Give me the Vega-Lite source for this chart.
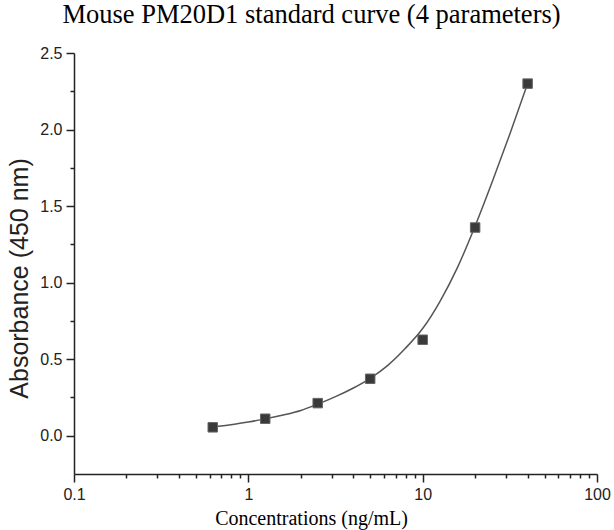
{
  "$schema": "https://vega.github.io/schema/vega-lite/v6.json",
  "autosize": {"type": "none"},
  "width": 523,
  "height": 421,
  "padding": {"left": 74, "top": 53, "right": 17, "bottom": 56},
  "background": "white",
  "title": {
    "text": "Mouse PM20D1 standard curve (4 parameters)",
    "font": "Liberation Serif",
    "fontSize": 26.5,
    "fontWeight": "normal",
    "color": "#000000",
    "anchor": "middle",
    "baseline": "alphabetic",
    "offset": 5,
    "dx": -24,
    "dy": 9
  },
  "datasets": {
    "curve": [
      {"conc": 0.625, "abs": 0.058},
      {"conc": 0.794, "abs": 0.072},
      {"conc": 1.0, "abs": 0.09},
      {"conc": 1.25, "abs": 0.11},
      {"conc": 1.585, "abs": 0.135},
      {"conc": 2.0, "abs": 0.165},
      {"conc": 2.5, "abs": 0.207},
      {"conc": 3.16, "abs": 0.255},
      {"conc": 3.98, "abs": 0.31},
      {"conc": 5.0, "abs": 0.375},
      {"conc": 6.31, "abs": 0.46},
      {"conc": 7.94, "abs": 0.57},
      {"conc": 10.0, "abs": 0.70},
      {"conc": 12.6, "abs": 0.88},
      {"conc": 15.85, "abs": 1.10},
      {"conc": 20.0, "abs": 1.37},
      {"conc": 25.1, "abs": 1.66},
      {"conc": 31.6, "abs": 1.97},
      {"conc": 40.0, "abs": 2.30}
    ],
    "points": [
      {"conc": 0.625, "abs": 0.055},
      {"conc": 1.25, "abs": 0.111},
      {"conc": 2.5, "abs": 0.213},
      {"conc": 5, "abs": 0.372},
      {"conc": 10, "abs": 0.627},
      {"conc": 20, "abs": 1.36},
      {"conc": 40, "abs": 2.30}
    ]
  },
  "encoding": {
    "x": {
      "field": "conc",
      "type": "quantitative",
      "scale": {"type": "log", "domain": [0.1, 100], "nice": false},
      "axis": {
        "title": "Concentrations (ng/mL)",
        "titleFont": "Liberation Serif",
        "titleFontSize": 20,
        "titleFontWeight": "normal",
        "titleColor": "#000000",
        "titleX": 237,
        "titleY": 50,
        "titleBaseline": "alphabetic",
        "values": [0.1, 0.2, 0.3, 0.4, 0.5, 0.6, 0.7, 0.8, 0.9, 1, 2, 3, 4, 5, 6, 7, 8, 9, 10, 20, 30, 40, 50, 60, 70, 80, 90, 100],
        "format": "~g",
        "labelExpr": "indexof([0.1, 1, 10, 100], datum.value) >= 0 ? datum.label : ''",
        "labelOverlap": false,
        "labelFont": "Liberation Sans",
        "labelFontSize": 16,
        "labelColor": "#222222",
        "labelPadding": 4,
        "labelFlush": false,
        "tickSize": {"condition": {"test": "indexof([0.1, 1, 10, 100], datum.value) >= 0", "value": 8}, "value": 4},
        "tickColor": "#222222",
        "tickWidth": 1.5,
        "domainColor": "#222222",
        "domainWidth": 1.5,
        "grid": false
      }
    },
    "y": {
      "field": "abs",
      "type": "quantitative",
      "scale": {"domain": [-0.25, 2.5], "nice": false, "zero": false},
      "axis": {
        "title": "Absorbance (450 nm)",
        "titleFont": "Liberation Sans",
        "titleFontSize": 25,
        "titleFontWeight": "normal",
        "titleColor": "#222222",
        "titleX": -42,
        "titleY": 225,
        "values": [0, 0.25, 0.5, 0.75, 1, 1.25, 1.5, 1.75, 2, 2.25, 2.5],
        "format": ".1f",
        "labelExpr": "abs(datum.value * 2 - round(datum.value * 2)) < 0.001 ? datum.label : ''",
        "labelOverlap": false,
        "labelFont": "Liberation Sans",
        "labelFontSize": 16,
        "labelColor": "#222222",
        "labelPadding": 4,
        "labelFlush": false,
        "tickSize": {"condition": {"test": "abs(datum.value * 2 - round(datum.value * 2)) < 0.001", "value": 8}, "value": 4},
        "tickColor": "#222222",
        "tickWidth": 1.5,
        "domainColor": "#222222",
        "domainWidth": 1.5,
        "grid": false
      }
    }
  },
  "layer": [
    {
      "data": {"name": "curve"},
      "mark": {"type": "line", "color": "#555555", "strokeWidth": 1.5, "interpolate": "monotone"}
    },
    {
      "data": {"name": "points"},
      "mark": {"type": "point", "shape": "square", "filled": true, "size": 90, "color": "#3a3a3a", "stroke": "#666666", "strokeWidth": 1, "opacity": 1}
    }
  ],
  "config": {"view": {"stroke": null}}
}
